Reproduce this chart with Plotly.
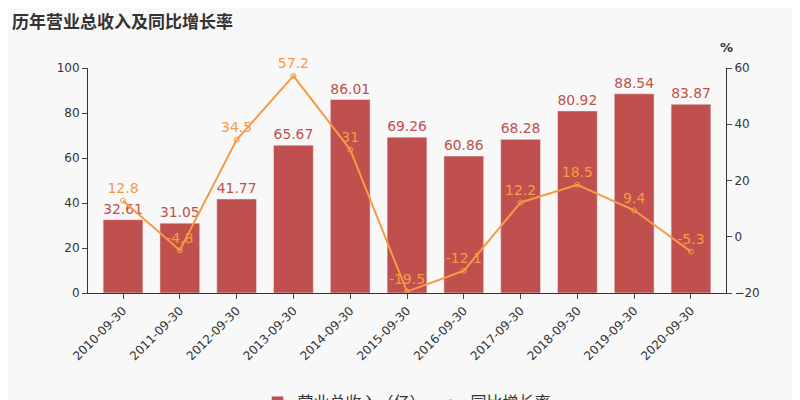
import plotly.graph_objects as go

dates = ['2010-09-30', '2011-09-30', '2012-09-30', '2013-09-30', '2014-09-30', '2015-09-30',
         '2016-09-30', '2017-09-30', '2018-09-30', '2019-09-30', '2020-09-30']
revenue = [32.61, 31.05, 41.77, 65.67, 86.01, 69.26, 60.86, 68.28, 80.92, 88.54, 83.87]
growth = [12.8, -4.8, 34.5, 57.2, 31, -19.5, -12.1, 12.2, 18.5, 9.4, -5.3]

bar_color = '#c0504d'
line_color = '#f79a46'

fig = go.Figure()

fig.add_trace(go.Bar(
    x=dates, y=revenue, name='营业总收入（亿）',
    marker_color=bar_color,
    text=[f'{v:g}' for v in revenue], textposition='outside',
    textfont=dict(color=bar_color, size=14), cliponaxis=False
))

fig.add_trace(go.Scatter(
    x=dates, y=growth, name='同比增长率', yaxis='y2',
    mode='lines+markers+text',
    line=dict(color=line_color, width=2),
    marker=dict(symbol='circle-open', size=5, color=line_color),
    text=[f'{v:g}' for v in growth], textposition='top center',
    textfont=dict(color=line_color, size=14), cliponaxis=False
))

fig.update_layout(
    width=800, height=400,
    paper_bgcolor='#f8f8f8', plot_bgcolor='#f8f8f8',
    font=dict(family='DejaVu Sans, Noto Sans CJK SC', color='#333', size=12),
    title=dict(text='<b>历年营业总收入及同比增长率</b>', x=0.005, xanchor='left',
               y=0.965, yanchor='middle',
               font=dict(size=17, color='#333', family='Noto Sans CJK SC')),
    margin=dict(l=80, r=82, t=60, b=115, autoexpand=False),
    bargap=0.3,
    xaxis=dict(type='category', tickangle=-45, showgrid=False, showline=True,
               linecolor='#333', ticks='outside', ticklen=5),
    yaxis=dict(range=[0, 100], dtick=20, showgrid=False, showline=True,
               linecolor='#333', ticks='outside', ticklen=5, zeroline=False),
    yaxis2=dict(range=[-20, 60], dtick=20, overlaying='y', side='right',
                showgrid=False, showline=True, linecolor='#333', ticks='outside',
                ticklen=5, zeroline=False),
    legend=dict(orientation='h', x=0.5, xanchor='center', y=-0.41, yanchor='top',
                font=dict(size=16, color='#333', family='Noto Sans CJK SC')),
    annotations=[dict(text='<b>%</b>', x=1.0, xref='paper', y=1.05, yref='paper',
                      xanchor='center', yanchor='bottom', showarrow=False,
                      font=dict(size=13, color='#333'))]
)

fig.write_html('out.html')
